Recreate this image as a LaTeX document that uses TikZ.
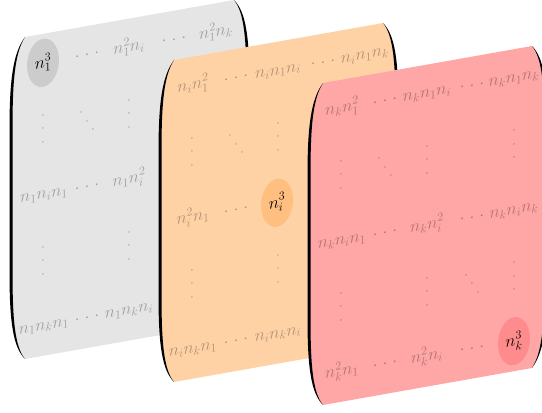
\documentclass[tikz,border=0pt]{standalone}
\usepackage{amsmath}
\usepackage{tikz}
\usetikzlibrary{shapes.geometric}

% Punkte mit festen Abstaenden
\newcommand{\hpkt}{{\cdot}\kern5pt{\cdot}\kern5pt{\cdot}}
\newcommand{\vpkt}{\vbox{\baselineskip13.5pt\lineskiplimit-\maxdimen
  \hbox{.}\hbox{.}\hbox{.}}}
\newcommand{\dpkt}{\hbox{\raise19.4pt\hbox{.}\kern1.7pt
  \raise9.7pt\hbox{.}\kern1.7pt\hbox{.}}}

\begin{document}
\begin{tikzpicture}[
        x=1pt, y=1pt,
        eintrag/.style={font=\LARGE, text opacity=0.3, anchor=base,
                        inner sep=0pt, transform shape},
        punkte/.style={eintrag, anchor=center},
        markiert/.style={ellipse, minimum width=32pt, minimum height=48pt,
                         inner sep=0pt, font=\LARGE, transform shape},
        klammer/.style={fill=black}
    ]
    \useasboundingbox (0,0) rectangle (542,413);

    % die drei Blaetter mit Klammern
    \foreach \sx/\sy/\farbe in {25/376/black!10, 174/353/orange!35, 323/330/red!35}{
        \begin{scope}[shift={(\sx,\sy)}, yslant=0.177]
            \fill[\farbe] (0,0) .. controls (-11,-14) and (-14,-40) .. (-14,-90)
                -- (-14,-232) .. controls (-14,-282) and (-11,-308) .. (0,-322)
                -- (209,-322) .. controls (220,-308) and (223,-282) .. (223,-232)
                -- (223,-90) .. controls (223,-40) and (220,-14) .. (209,0) -- cycle;
            \fill[klammer] (0,0) .. controls (-12,-14) and (-15.5,-40) .. (-15.5,-90)
                -- (-15.5,-232) .. controls (-15.5,-282) and (-12,-308) .. (0,-322)
                .. controls (-10,-308) and (-12.5,-282) .. (-12.5,-232)
                -- (-12.5,-90) .. controls (-12.5,-40) and (-10,-14) .. (0,0) -- cycle;
            \fill[klammer] (209,0) .. controls (221,-14) and (224.5,-40) .. (224.5,-90)
                -- (224.5,-232) .. controls (224.5,-282) and (221,-308) .. (209,-322)
                .. controls (219,-308) and (221.5,-282) .. (221.5,-232)
                -- (221.5,-90) .. controls (221.5,-40) and (219,-14) .. (209,0) -- cycle;
        \end{scope}
    }

    % Blatt 1
    \begin{scope}[shift={(25,376)}, yslant=0.177]
        \node[markiert, fill=black!20] (g11) at (18,-29) {$n_1^3$};
        \node[eintrag] (g12) at (62,-33)   {$\hpkt$};
        \node[eintrag] (g13) at (104,-33)  {$n_1^2n_i$};
        \node[eintrag] (g14) at (149,-33)  {$\hpkt$};
        \node[eintrag] (g15) at (191,-33)  {$n_1^2n_k$};
        \node[punkte]  (g21) at (18,-95)   {\vpkt};
        \node[punkte]  (g22) at (62,-95)   {\dpkt};
        \node[punkte]  (g23) at (104,-95)  {\vpkt};
        \node[eintrag] (g31) at (19,-165)  {$n_1n_in_1$};
        \node[eintrag] (g32) at (62,-165)  {$\hpkt$};
        \node[eintrag] (g33) at (104,-165) {$n_1n_i^2$};
        \node[punkte]  (g41) at (18,-227)  {\vpkt};
        \node[punkte]  (g43) at (104,-227) {\vpkt};
        \node[eintrag] (g51) at (19,-296)  {$n_1n_kn_1$};
        \node[eintrag] (g52) at (62,-296)  {$\hpkt$};
        \node[eintrag] (g53) at (104,-296) {$n_1n_kn_i$};
    \end{scope}

    % Blatt i
    \begin{scope}[shift={(174,353)}, yslant=0.177]
        \node[eintrag] (o11) at (19,-33)   {$n_in_1^2$};
        \node[eintrag] (o12) at (62,-33)   {$\hpkt$};
        \node[eintrag] (o13) at (104,-33)  {$n_in_1n_i$};
        \node[eintrag] (o14) at (149,-33)  {$\hpkt$};
        \node[eintrag] (o15) at (191,-33)  {$n_in_1n_k$};
        \node[punkte]  (o21) at (18,-95)   {\vpkt};
        \node[punkte]  (o22) at (62,-95)   {\dpkt};
        \node[punkte]  (o23) at (104,-95)  {\vpkt};
        \node[eintrag] (o31) at (19,-165)  {$n_i^2n_1$};
        \node[eintrag] (o32) at (62,-165)  {$\hpkt$};
        \node[markiert, fill=orange!50] (o33) at (103,-161) {$n_i^3$};
        \node[punkte]  (o41) at (18,-227)  {\vpkt};
        \node[punkte]  (o43) at (104,-227) {\vpkt};
        \node[eintrag] (o51) at (19,-296)  {$n_in_kn_1$};
        \node[eintrag] (o52) at (62,-296)  {$\hpkt$};
        \node[eintrag] (o53) at (104,-296) {$n_in_kn_i$};
    \end{scope}

    % Blatt k
    \begin{scope}[shift={(323,330)}, yslant=0.177]
        \node[eintrag] (r11) at (19,-33)   {$n_kn_1^2$};
        \node[eintrag] (r12) at (62,-33)   {$\hpkt$};
        \node[eintrag] (r13) at (104,-33)  {$n_kn_1n_i$};
        \node[eintrag] (r14) at (149,-33)  {$\hpkt$};
        \node[eintrag] (r15) at (191,-33)  {$n_kn_1n_k$};
        \node[punkte]  (r21) at (18,-95)   {\vpkt};
        \node[punkte]  (r22) at (62,-95)   {\dpkt};
        \node[punkte]  (r23) at (104,-95)  {\vpkt};
        \node[punkte]  (r25) at (191,-95)  {\vpkt};
        \node[eintrag] (r31) at (19,-165)  {$n_kn_in_1$};
        \node[eintrag] (r32) at (62,-165)  {$\hpkt$};
        \node[eintrag] (r33) at (104,-165) {$n_kn_i^2$};
        \node[eintrag] (r34) at (149,-165) {$\hpkt$};
        \node[eintrag] (r35) at (191,-165) {$n_kn_in_k$};
        \node[punkte]  (r41) at (18,-227)  {\vpkt};
        \node[punkte]  (r43) at (104,-227) {\vpkt};
        \node[punkte]  (r44) at (149,-227) {\dpkt};
        \node[punkte]  (r45) at (191,-227) {\vpkt};
        \node[eintrag] (r51) at (19,-296)  {$n_k^2n_1$};
        \node[eintrag] (r52) at (62,-296)  {$\hpkt$};
        \node[eintrag] (r53) at (104,-296) {$n_k^2n_i$};
        \node[eintrag] (r54) at (149,-296) {$\hpkt$};
        \node[markiert, fill=red!45] (r55) at (191,-292) {$n_k^3$};
    \end{scope}
\end{tikzpicture}
\end{document}
